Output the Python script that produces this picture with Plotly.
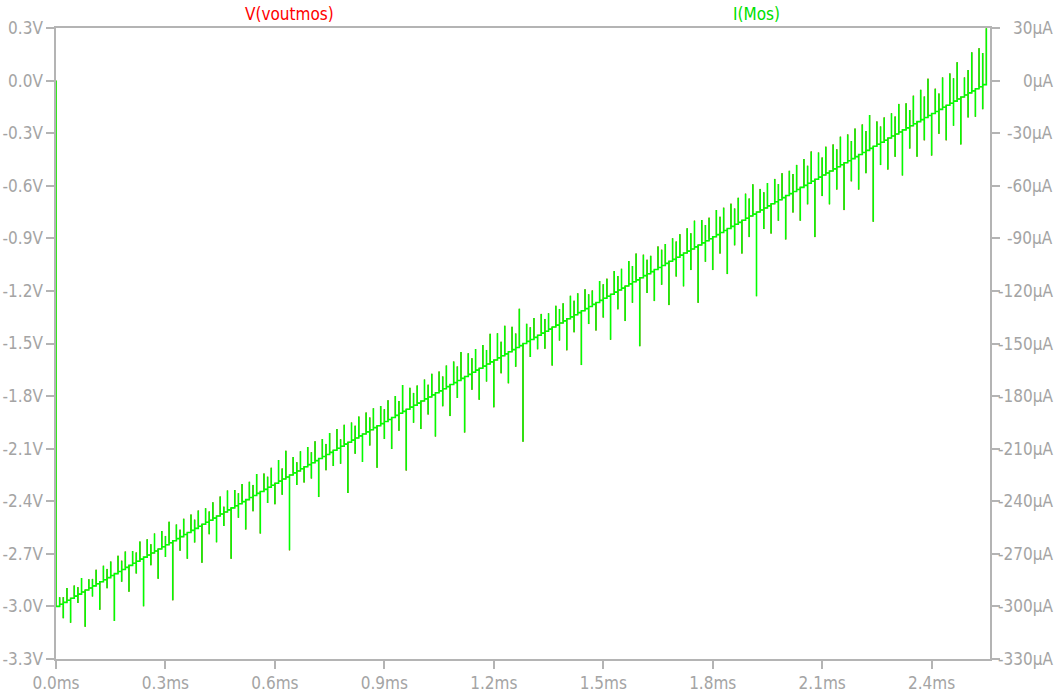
import plotly.graph_objects as go

# Sample clock of the DAC ramp (one code per 10 us)
clock_ms = 0.01

# I(Mos) staircase level held after each code, in uA (codes 0..255)
current_levels = [
    -300.0, -298.8, -297.7, -296.5, -295.3, -294.1, -293.0, -291.8, -290.6, -289.5, -288.3, -287.1, -285.9, -284.8, -283.6, -282.4,
    -281.3, -280.1, -278.9, -277.7, -276.6, -275.4, -274.2, -273.0, -271.9, -270.7, -269.5, -268.4, -267.2, -266.0, -264.8, -263.7,
    -262.5, -261.3, -260.2, -259.0, -257.8, -256.6, -255.5, -254.3, -253.1, -252.0, -250.8, -249.6, -248.4, -247.3, -246.1, -244.9,
    -243.8, -242.6, -241.4, -240.2, -239.1, -237.9, -236.7, -235.5, -234.4, -233.2, -232.0, -230.9, -229.7, -228.5, -227.3, -226.2,
    -225.0, -223.8, -222.7, -221.5, -220.3, -219.1, -218.0, -216.8, -215.6, -214.5, -213.3, -212.1, -210.9, -209.8, -208.6, -207.4,
    -206.3, -205.1, -203.9, -202.7, -201.6, -200.4, -199.2, -198.0, -196.9, -195.7, -194.5, -193.4, -192.2, -191.0, -189.8, -188.7,
    -187.5, -186.3, -185.2, -184.0, -182.8, -181.6, -180.5, -179.3, -178.1, -177.0, -175.8, -174.6, -173.4, -172.3, -171.1, -169.9,
    -168.8, -167.6, -166.4, -165.2, -164.1, -162.9, -161.7, -160.5, -159.4, -158.2, -157.0, -155.9, -154.7, -153.5, -152.3, -151.2,
    -150.0, -148.8, -147.7, -146.5, -145.3, -144.1, -143.0, -141.8, -140.6, -139.5, -138.3, -137.1, -135.9, -134.8, -133.6, -132.4,
    -131.3, -130.1, -128.9, -127.7, -126.6, -125.4, -124.2, -123.0, -121.9, -120.7, -119.5, -118.4, -117.2, -116.0, -114.8, -113.7,
    -112.5, -111.3, -110.2, -109.0, -107.8, -106.6, -105.5, -104.3, -103.1, -102.0, -100.8, -99.6, -98.4, -97.3, -96.1, -94.9,
    -93.8, -92.6, -91.4, -90.2, -89.1, -87.9, -86.7, -85.5, -84.4, -83.2, -82.0, -80.9, -79.7, -78.5, -77.3, -76.2,
    -75.0, -73.8, -72.7, -71.5, -70.3, -69.1, -68.0, -66.8, -65.6, -64.5, -63.3, -62.1, -60.9, -59.8, -58.6, -57.4,
    -56.3, -55.1, -53.9, -52.7, -51.6, -50.4, -49.2, -48.0, -46.9, -45.7, -44.5, -43.4, -42.2, -41.0, -39.8, -38.7,
    -37.5, -36.3, -35.2, -34.0, -32.8, -31.6, -30.5, -29.3, -28.1, -27.0, -25.8, -24.6, -23.4, -22.3, -21.1, -19.9,
    -18.8, -17.6, -16.4, -15.2, -14.1, -12.9, -11.7, -10.5, -9.4, -8.2, -7.0, -5.9, -4.7, -3.5, -2.3, -1.2,
]

# Switching glitch at each code transition (codes 1..255), uA relative to the new step:
# positive overshoot and negative undershoot
glitch_up = [
    4, 3, 7, 0, 6, 4, 8, 0, 5, 4, 8, 0, 8, 5, 8, 0,
    9, 5, 9, 0, 7, 5, 10, 0, 9, 5, 10, 0, 9, 5, 12, 0,
    8, 4, 9, 0, 9, 5, 9, 0, 8, 5, 9, 0, 10, 3, 11, 0,
    9, 6, 10, 0, 9, 6, 11, 0, 9, 6, 10, 0, 12, 6, 15, 0,
    9, 5, 10, 0, 10, 6, 11, 0, 10, 6, 11, 0, 11, 4, 11, 0,
    10, 7, 11, 0, 11, 7, 11, 0, 10, 7, 11, 0, 11, 7, 15, 0,
    11, 7, 10, 0, 11, 7, 12, 0, 11, 7, 12, 0, 12, 8, 15, 0,
    12, 8, 12, 0, 12, 8, 16, 0, 14, 8, 16, 0, 13, 8, 21, 0,
    10, 7, 11, 0, 11, 7, 9, 0, 11, 8, 10, 0, 12, 8, 11, 0,
    11, 7, 8, 0, 11, 8, 10, 0, 12, 8, 11, 0, 13, 9, 15, 0,
    12, 8, 9, 0, 12, 9, 11, 0, 12, 9, 12, 0, 13, 9, 15, 0,
    13, 9, 12, 0, 14, 9, 13, 0, 13, 9, 14, 0, 14, 10, 17, 0,
    12, 9, 13, 0, 13, 9, 14, 0, 13, 10, 14, 0, 15, 10, 17, 0,
    14, 10, 15, 0, 14, 10, 16, 0, 15, 10, 16, 0, 16, 11, 19, 0,
    13, 9, 13, 0, 13, 10, 16, 0, 14, 9, 16, 0, 17, 12, 21, 0,
    13, 9, 17, 0, 17, 13, 21, 0, 10, 13, 22, 0, 22, 18, 31,
]
glitch_down = [
    0, -9, 0, -14, 0, -5, 0, -21, 0, -6, 0, -16, 0, -6, 0, -27,
    0, -7, 0, -15, 0, -7, 0, -28, 0, -7, 0, -17, 0, -7, 0, -34,
    0, -8, 0, -15, 0, -8, 0, -22, 0, -8, 0, -15, 0, -8, 0, -29,
    0, -8, 0, -17, 0, -9, 0, -24, 0, -9, 0, -12, 0, -9, 0, -43,
    0, -8, 0, -9, 0, -9, 0, -22, 0, -9, 0, -9, 0, -10, 0, -29,
    0, -9, 0, -16, 0, -9, 0, -24, 0, -10, 0, -18, 0, -10, 0, -35,
    0, -10, 0, -16, 0, -10, 0, -25, 0, -10, 0, -18, 0, -10, 0, -32,
    0, -10, 0, -18, 0, -10, 0, -27, 0, -10, 0, -18, 0, -11, 0, -56,
    0, -10, 0, -8, 0, -10, 0, -22, 0, -10, 0, -18, 0, -10, 0, -31,
    0, -10, 0, -16, 0, -11, 0, -26, 0, -11, 0, -20, 0, -12, 0, -39,
    0, -11, 0, -18, 0, -11, 0, -25, 0, -11, 0, -19, 0, -12, 0, -33,
    0, -12, 0, -19, 0, -12, 0, -26, 0, -12, 0, -19, 0, -12, 0, -48,
    0, -12, 0, -17, 0, -12, 0, -25, 0, -12, 0, -19, 0, -12, 0, -33,
    0, -12, 0, -19, 0, -13, 0, -27, 0, -13, 0, -20, 0, -13, 0, -43,
    0, -13, 0, -18, 0, -13, 0, -26, 0, -13, 0, -20, 0, -13, 0, -24,
    0, -14, 0, -20, 0, -14, 0, -27, 0, -14, 0, -16, 0, -14, 0,
]

initial_current = 0.0   # uA before the ramp starts
sense_ohms = 10e3       # voutmos = I(Mos) * 10 kOhm

x_ticks = [0.0, 0.3, 0.6, 0.9, 1.2, 1.5, 1.8, 2.1, 2.4]
x_labels = ["0.0ms", "0.3ms", "0.6ms", "0.9ms", "1.2ms", "1.5ms", "1.8ms", "2.1ms", "2.4ms"]
v_ticks = [0.3, 0.0, -0.3, -0.6, -0.9, -1.2, -1.5, -1.8, -2.1, -2.4, -2.7, -3.0, -3.3]
v_labels = ["0.3V", "0.0V", "-0.3V", "-0.6V", "-0.9V", "-1.2V", "-1.5V", "-1.8V",
            "-2.1V", "-2.4V", "-2.7V", "-3.0V", "-3.3V"]
i_ticks = [30, 0, -30, -60, -90, -120, -150, -180, -210, -240, -270, -300, -330]
i_labels = ["30µA", "0µA", "-30µA", "-60µA", "-90µA", "-120µA", "-150µA", "-180µA",
            "-210µA", "-240µA", "-270µA", "-300µA", "-330µA"]

# Build the waveform: step edge at every clock, with its glitch excursion
t = [0.0, 0.0]
i_wave = [initial_current, current_levels[0]]
for k in range(1, len(current_levels)):
    tk = round(k * clock_ms, 4)
    lvl = current_levels[k]
    t += [tk, tk, tk, tk]
    i_wave += [current_levels[k - 1], lvl + glitch_up[k - 1], lvl + glitch_down[k - 1], lvl]

v_wave = [i * 1e-6 * sense_ohms for i in i_wave]

AXIS = "#b4b4b4"
TEXT = "#a4a4a4"
FONT = "DejaVu Sans Condensed, Liberation Sans Narrow, Liberation Sans, sans-serif"
FS = 17

fig = go.Figure()
fig.add_trace(go.Scatter(x=t, y=v_wave, mode="lines", line=dict(color="#ff0000", width=0.8),
                         yaxis="y", showlegend=False, hoverinfo="skip"))
fig.add_trace(go.Scatter(x=t, y=i_wave, mode="lines", line=dict(color="#00ff00", width=1.6),
                         yaxis="y2", showlegend=False, hoverinfo="skip"))

axis_style = dict(showline=True, linecolor=AXIS, linewidth=1.5,
                  ticks="outside", ticklen=8, tickcolor=AXIS, tickwidth=1.5,
                  showgrid=False, zeroline=False, automargin=False)

fig.update_layout(
    width=1063, height=699,
    margin=dict(l=56, r=73, t=28, b=40),
    paper_bgcolor="white", plot_bgcolor="white",
    font=dict(family=FONT, size=FS, color=TEXT),
    xaxis=dict(range=[0, 2.56], tickvals=x_ticks, ticktext=x_labels, mirror=True, **axis_style),
    yaxis=dict(range=[-3.3, 0.3], tickvals=v_ticks, ticktext=v_labels, **axis_style),
    yaxis2=dict(range=[-330, 30], overlaying="y", side="right",
                tickvals=i_ticks, showticklabels=False, **axis_style),
)

# Right-hand current labels, right-aligned at the page edge
for val, lab in zip(i_ticks, i_labels):
    fig.add_annotation(x=1.0696, xref="paper", y=val, yref="y2", text=lab,
                       showarrow=False, xanchor="right", yanchor="middle",
                       font=dict(family=FONT, size=FS, color=TEXT))

fig.add_annotation(x=0.25, xref="paper", y=1, yref="paper", yshift=14, text="V(voutmos)",
                   showarrow=False, xanchor="center", yanchor="middle",
                   font=dict(family=FONT, size=FS, color="#ff0000"))
fig.add_annotation(x=0.75, xref="paper", y=1, yref="paper", yshift=14, text="I(Mos)",
                   showarrow=False, xanchor="center", yanchor="middle",
                   font=dict(family=FONT, size=FS, color="#00e000"))

fig.write_html("out.html")
